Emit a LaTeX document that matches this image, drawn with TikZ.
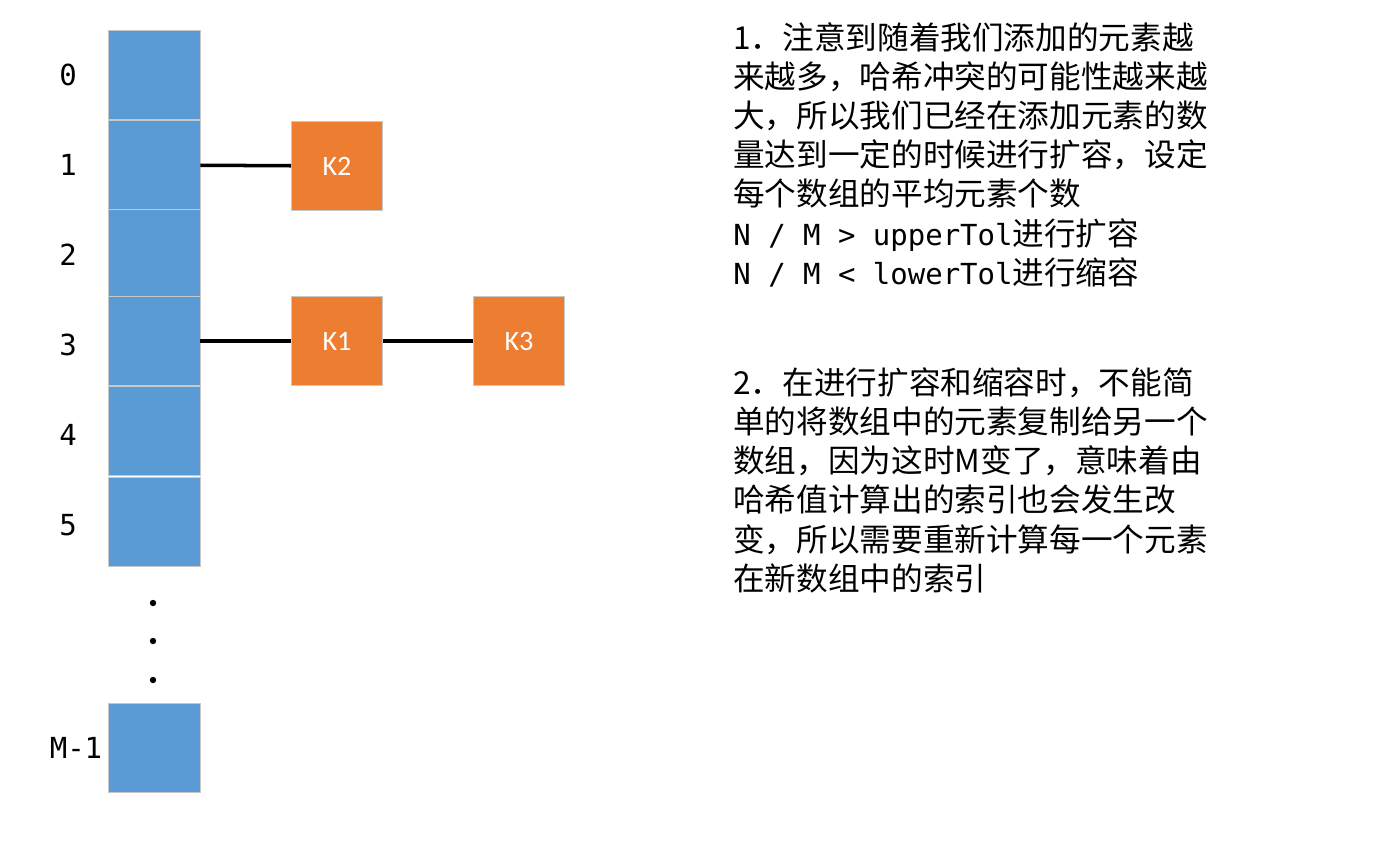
\documentclass[tikz,border=0pt]{standalone}
\usepackage{fontspec}
\newfontfamily\cjk{Noto Sans CJK SC}
\newfontfamily\mono{DejaVu Sans Mono}
\newfontfamily\calib{Carlito}
\definecolor{hbblue}{HTML}{5B9BD5}
\definecolor{hborange}{HTML}{ED7D31}
\definecolor{hbedge}{HTML}{C8C8C8}

\begin{document}
\begin{tikzpicture}[x=0.02cm,y=-0.02cm,
  slot/.style={draw=hbedge,fill=hbblue,minimum width=1.84cm,minimum height=1.78cm,
    inner sep=0pt},
  entry/.style={draw=hbedge,fill=hborange,minimum width=1.82cm,minimum height=1.78cm,
    inner sep=0pt,text=white,font=\calib\fontsize{16}{19}\selectfont},
  idx/.style={font=\mono\fontsize{16.5}{19}\selectfont},
  note/.style={anchor=base west,align=left,inner sep=0pt,
    font=\cjk\fontsize{18}{22.2}\selectfont},
  link/.style={line width=2pt,black}]
  \useasboundingbox (0,0) rectangle (1373,859);
  % the table
  \node[slot] (s0) at (154,75)  {};
  \node[slot] (s1) at (154,165) {};
  \node[slot] (s2) at (154,254) {};
  \node[slot] (s3) at (154,341) {};
  \node[slot] (s4) at (154,431) {};
  \node[slot] (s5) at (154,522) {};
  \node[slot] (sm) at (154,748) {};
  \node[idx] (i0) at (68,75)  {0};
  \node[idx] (i1) at (68,165) {1};
  \node[idx] (i2) at (68,255) {2};
  \node[idx] (i3) at (68,345) {3};
  \node[idx] (i4) at (68,435) {4};
  \node[idx] (i5) at (68,525) {5};
  \node[idx] (im) at (76,748) {M-1};
  \fill (153,603) circle (3.2);
  \fill (153,641) circle (3.2);
  \fill (153,680) circle (3.2);
  % the chains
  \node[entry] (k2) at (337,166) {K2};
  \node[entry] (k1) at (337,341) {K1};
  \node[entry] (k3) at (519,341) {K3};
  \draw[link] (s1) -- (k2);
  \draw[link] (s3) -- (k1);
  \draw[link] (k1) -- (k3);
  % the notes (anchored on the last line)
  \node[note] (n1) at (733,284) {1．注意到随着我们添加的元素越\\
    来越多，哈希冲突的可能性越来越\\
    大，所以我们已经在添加元素的数\\
    量达到一定的时候进行扩容，设定\\
    每个数组的平均元素个数\\
    {\mono\fontsize{16.5}{19}\selectfont N / M > upperTol}进行扩容\\
    {\mono\fontsize{16.5}{19}\selectfont N / M < lowerTol}进行缩容};
  \node[note] (n2) at (733,590) {2．在进行扩容和缩容时，不能简\\
    单的将数组中的元素复制给另一个\\
    数组，因为这时M变了，意味着由\\
    哈希值计算出的索引也会发生改\\
    变，所以需要重新计算每一个元素\\
    在新数组中的索引};
\end{tikzpicture}
\end{document}
